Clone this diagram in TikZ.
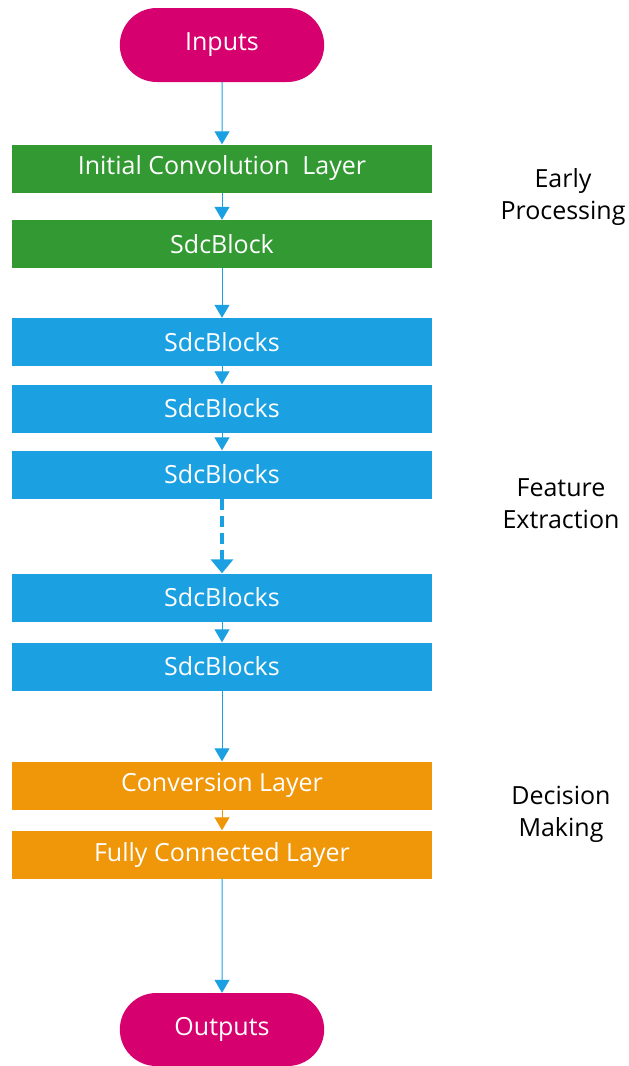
\documentclass[tikz,border=0pt]{standalone}
\usepackage{fontspec}
\setmainfont{Open Sans}
\usetikzlibrary{arrows.meta,shapes.misc}
\definecolor{cpink}{RGB}{214,0,111}
\definecolor{cgreen}{RGB}{51,153,51}
\definecolor{cblue}{RGB}{27,161,226}
\definecolor{corange}{RGB}{240,150,9}
\tikzset{
  term/.style={rounded rectangle, fill=cpink, text=white, minimum width=211pt, minimum height=74pt, font=\fontsize{25}{30}\selectfont},
  layerbox/.style={rectangle, text=white, minimum width=420pt, minimum height=48pt, inner sep=0pt, font=\fontsize{25}{30}\selectfont},
  conn/.style={draw=cblue, line width=1pt, -{Triangle[width=15pt,length=13pt]}},
  dconn/.style={draw=cblue, line width=4.5pt, dash pattern=on 11pt off 6pt, -{Triangle[width=22pt,length=14pt]}},
  oconn/.style={draw=corange, line width=1pt, -{Triangle[width=15pt,length=13pt,fill=corange]}},
  side/.style={align=center, text=black, font=\fontsize{25}{32}\selectfont}
}
\begin{document}
\begin{tikzpicture}[x=1pt,y=-1pt]
\useasboundingbox (0,0) rectangle (629,1066);
\node[term] (in) at (222,45) {Inputs};
\node[layerbox, fill=cgreen] (ic) at (222,168.5) {Initial Convolution\ \ Layer};
\node[layerbox, fill=cgreen] (sb) at (222,244) {SdcBlock};
\node[layerbox, fill=cblue] (b1) at (222,342) {SdcBlocks};
\node[layerbox, fill=cblue] (b2) at (222,408.5) {SdcBlocks};
\node[layerbox, fill=cblue] (b3) at (222,474.5) {SdcBlocks};
\node[layerbox, fill=cblue] (b4) at (222,597.5) {SdcBlocks};
\node[layerbox, fill=cblue] (b5) at (222,666.5) {SdcBlocks};
\node[layerbox, fill=corange] (cv) at (222,785.5) {Conversion Layer};
\node[layerbox, fill=corange] (fc) at (222,854.5) {Fully Connected Layer};
\node[term, minimum height=73pt] (out) at (222,1029.5) {Outputs};
\draw[conn] (in) -- (ic);
\draw[conn] (ic) -- (sb);
\draw[conn] (sb) -- (b1);
\draw[conn] (b1) -- (b2);
\draw[conn] (b2) -- (b3);
\draw[dconn] (b3) -- (b4);
\draw[conn] (b4) -- (b5);
\draw[conn] (b5) -- (cv);
\draw[oconn] (cv) -- (fc);
\draw[conn] (fc) -- (out);
\node[side] (l1) at (563,197) {Early\\Processing};
\node[side] (l2) at (561,504) {Feature\\Extraction};
\node[side] (l3) at (561,814) {Decision\\Making};
\end{tikzpicture}
\end{document}
